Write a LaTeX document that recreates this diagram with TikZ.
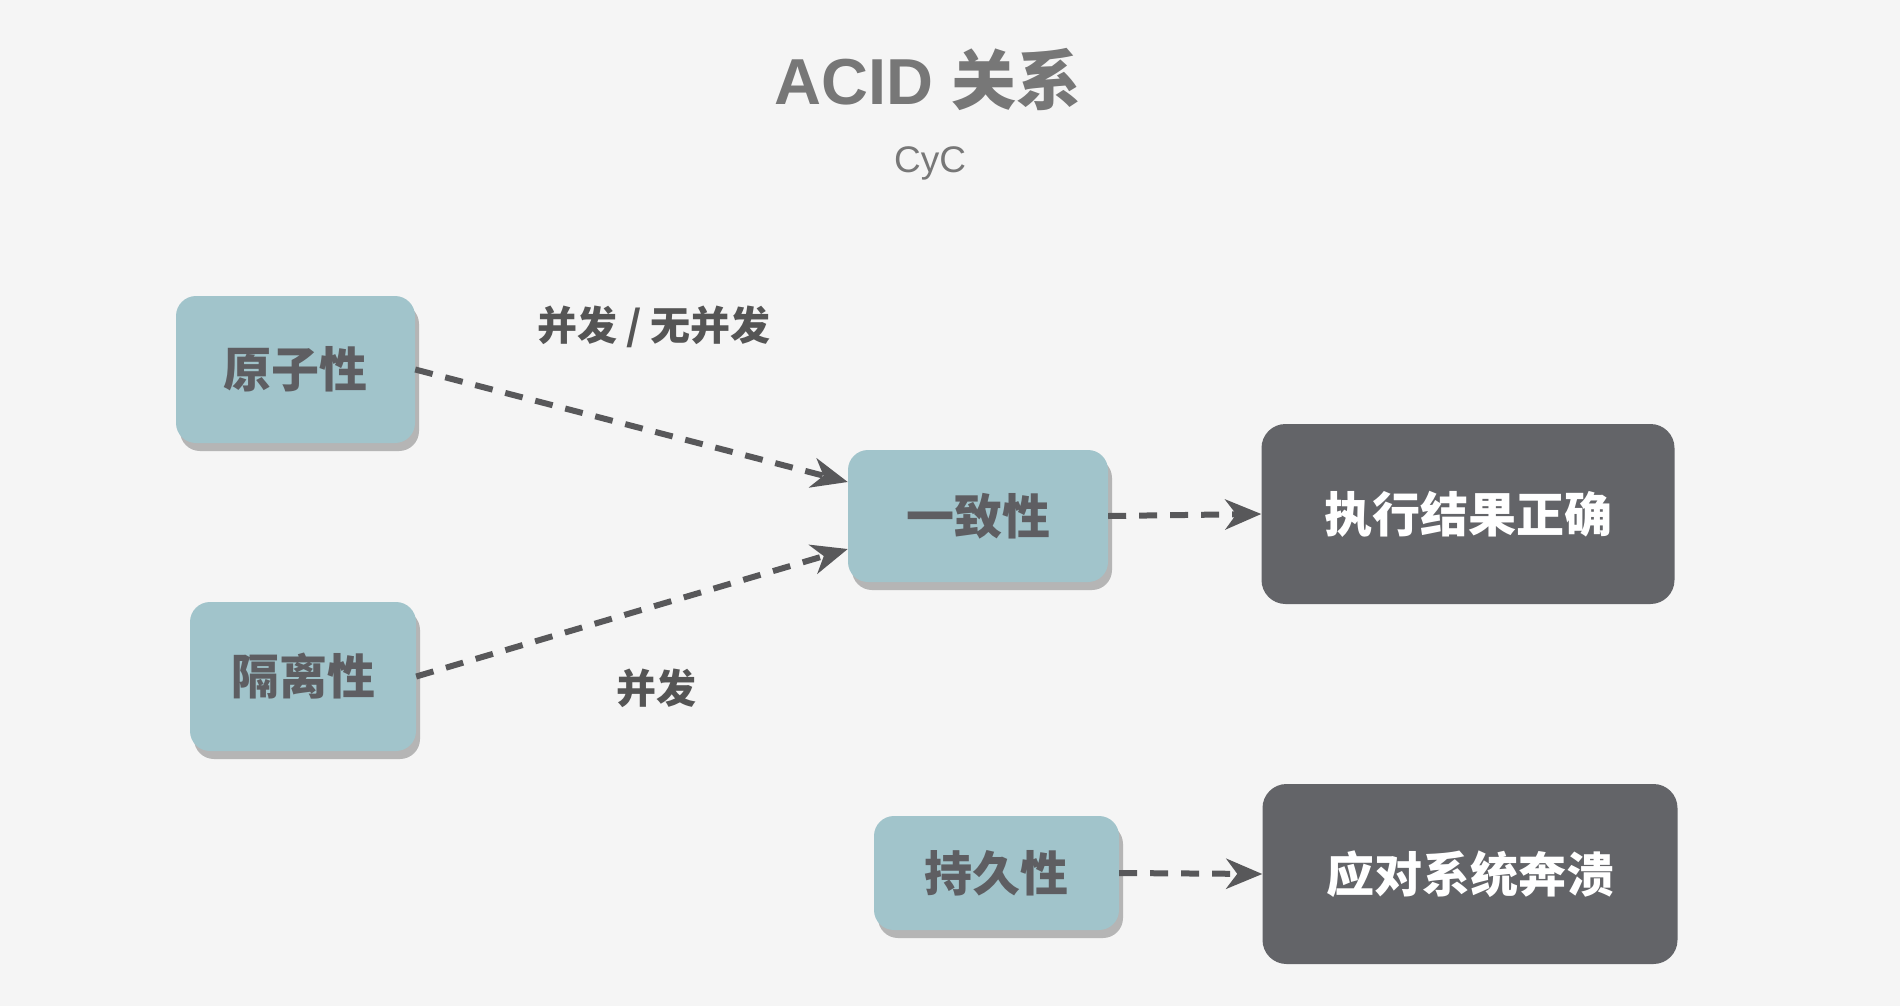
\documentclass[tikz,border=0pt]{standalone}
\usepackage{fontspec}
\setmainfont{Liberation Sans}
\newfontfamily\cjk{Noto Sans CJK SC}
\usetikzlibrary{arrows.meta,shadows}
\definecolor{bgc}{HTML}{F5F5F5}
\definecolor{blueboxc}{HTML}{A1C4CB}
\definecolor{darkboxc}{HTML}{636468}
\definecolor{shadowc}{HTML}{B5B5B5}
\definecolor{txtc}{HTML}{5E5E62}
\definecolor{arrowc}{HTML}{58585A}
\definecolor{titlec}{HTML}{777777}
\definecolor{labelc}{HTML}{555555}
\begin{document}
\begin{tikzpicture}[x=1pt,y=-1pt,
  propbox/.style={rectangle, rounded corners=20pt, fill=blueboxc, text=txtc,
    font=\cjk\bfseries\fontsize{48}{56}\selectfont, inner sep=0pt,
    drop shadow={shadow xshift=4pt, shadow yshift=-8pt, fill=shadowc, opacity=1}},
  resultbox/.style={rectangle, rounded corners=24pt, fill=darkboxc, text=white,
    font=\cjk\bfseries\fontsize{48}{56}\selectfont, inner sep=0pt},
  edgelabel/.style={text=labelc, font=\cjk\bfseries\fontsize{40}{48}\selectfont},
  flow/.style={draw=arrowc, line width=6pt, dash pattern=on 18pt off 13pt,
    -{Stealth[length=36pt, width=30pt, inset=11pt]}}
]
\fill[bgc] (0,0) rectangle (1900,1006);
\useasboundingbox (0,0) rectangle (1900,1006);

\node[text=titlec, font=\bfseries\fontsize{65}{75}\selectfont] (title) at (928,80) {ACID {\cjk 关系}};
\node[text=titlec, font=\fontsize{37}{44}\selectfont] (sub) at (930,163) {CyC};

\node[propbox, minimum width=239pt, minimum height=147pt] (a) at (295.5,369.5) {原子性};
\node[propbox, minimum width=226pt, minimum height=149pt] (i) at (303,676.5) {隔离性};
\node[propbox, minimum width=260pt, minimum height=132pt] (c) at (978,516) {一致性};
\node[propbox, minimum width=245pt, minimum height=114pt] (d) at (996.5,873) {持久性};

\node[resultbox, minimum width=413pt, minimum height=180pt] (r1) at (1468,514) {执行结果正确};
\node[resultbox, minimum width=415pt, minimum height=180pt] (r2) at (1470,874) {应对系统奔溃};

\node[edgelabel] (l1) at (654,327) {并发 / 无并发};
\node[edgelabel] (l2) at (656,688) {并发};

\draw[flow] (a.east) -- ([yshift=34pt]c.west);
\draw[flow] (i.east) -- ([yshift=-33pt]c.west);
\draw[flow] (c.east) -- (r1.west);
\draw[flow] (d.east) -- (r2.west);
\end{tikzpicture}
\end{document}
